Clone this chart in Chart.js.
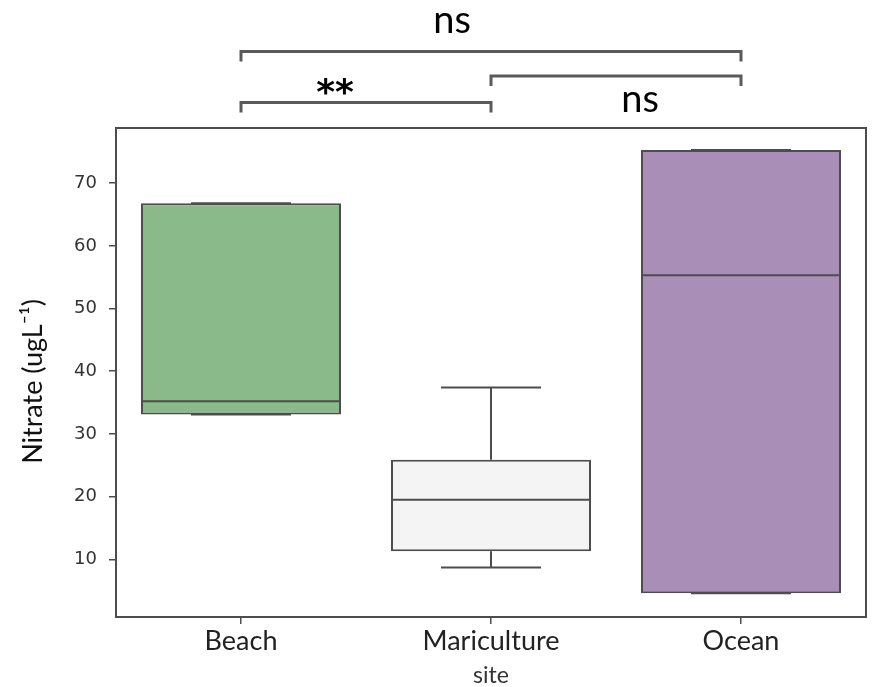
<!DOCTYPE html>
<html>
<head>
<meta charset="utf-8">
<script src="https://cdn.jsdelivr.net/npm/chart.js@4.4.1/dist/chart.umd.min.js"></script>
<style>
  html, body { margin: 0; padding: 0; background: #fff; }
  #wrap { width: 874px; height: 687px; }
</style>
</head>
<body>
<div id="wrap"><canvas id="boxChart" width="874" height="687"></canvas></div>
<script>
// --- Data ---
const sites = ['Beach', 'Mariculture', 'Ocean'];
const whiskerLow = [33.1, 8.7, 4.6];
const q1 = [33.1, 11.3, 4.6];
const medians = [35.2, 19.5, 55.3];
const q3 = [66.8, 25.9, 75.3];
const whiskerHigh = [66.8, 37.4, 75.3];
const yTicks = [10, 20, 30, 40, 50, 60, 70];
const boxColors = ['#8aba89', '#f4f4f4', '#a98eb7'];
const yTitle = 'Nitrate (ugL⁻¹)';

// significance brackets: [from site, to site, label]
const comparisons = [
  [0, 2, 'ns'],
  [1, 2, 'ns'],
  [0, 1, '**']
];

const edgeColor = '#4d4d4d';

// --- Whiskers, medians, frame and brackets ---
// bracket layout in px: line y, drop length, label x shift from bracket centre, label baseline
const bracketStyle = [
  { lineY: 51.5, drop: 10, dx: -39, baseY: 33, font: '38px Lato' },
  { lineY: 76, drop: 10, dx: 24, baseY: 111.5, font: '38px Lato' },
  { lineY: 102.5, drop: 10, dx: -31, baseY: 104, font: 'bold 36px "DejaVu Sans"' }
];

const boxExtras = {
  id: 'boxExtras',
  afterDatasetsDraw(chart) {
    const { ctx, scales: { x, y } } = chart;
    const bars = chart.getDatasetMeta(0).data;
    const seg = (x1, y1, x2, y2) => {
      ctx.beginPath();
      ctx.moveTo(x1, y1);
      ctx.lineTo(x2, y2);
      ctx.stroke();
    };
    ctx.save();
    ctx.strokeStyle = edgeColor;
    ctx.lineWidth = 2;
    sites.forEach((s, i) => {
      const cx = x.getPixelForValue(i);
      const half = bars[i].width / 2;
      const cap = half / 2;
      const yMed = y.getPixelForValue(medians[i]);
      const yHi = y.getPixelForValue(whiskerHigh[i]);
      const yLo = y.getPixelForValue(whiskerLow[i]);
      seg(cx - half, yMed, cx + half, yMed);
      seg(cx, y.getPixelForValue(q3[i]), cx, yHi);
      seg(cx, y.getPixelForValue(q1[i]), cx, yLo);
      seg(cx - cap, yHi, cx + cap, yHi);
      seg(cx - cap, yLo, cx + cap, yLo);
    });
    ctx.restore();
  },
  afterDraw(chart) {
    const { ctx, chartArea: a, scales: { x } } = chart;
    ctx.save();
    // frame round the plot
    ctx.strokeStyle = edgeColor;
    ctx.lineWidth = 2;
    ctx.strokeRect(a.left, a.top, a.right - a.left, a.bottom - a.top);

    // y axis title, a little below the plot centre as in the reference
    ctx.save();
    ctx.translate(33, (a.top + a.bottom) / 2 + 9);
    ctx.rotate(-Math.PI / 2);
    ctx.font = '27px Lato';
    ctx.fillStyle = '#111';
    ctx.textAlign = 'center';
    ctx.textBaseline = 'middle';
    ctx.fillText(yTitle, 0, 0);
    ctx.restore();

    // significance brackets
    ctx.strokeStyle = '#5a5a5a';
    ctx.lineWidth = 3;
    ctx.fillStyle = '#000';
    ctx.textAlign = 'center';
    ctx.textBaseline = 'alphabetic';
    comparisons.forEach(([from, to, label], k) => {
      const st = bracketStyle[k];
      const x1 = x.getPixelForValue(from);
      const x2 = x.getPixelForValue(to);
      ctx.beginPath();
      ctx.moveTo(x1, st.lineY + st.drop);
      ctx.lineTo(x1, st.lineY);
      ctx.lineTo(x2, st.lineY);
      ctx.lineTo(x2, st.lineY + st.drop);
      ctx.stroke();
      ctx.font = st.font;
      ctx.fillText(label, (x1 + x2) / 2 + st.dx, st.baseY);
    });
    ctx.restore();
  }
};

new Chart(document.getElementById('boxChart'), {
  type: 'bar',
  data: {
    labels: sites,
    datasets: [{
      data: sites.map((s, i) => [q1[i], q3[i]]),
      backgroundColor: boxColors,
      borderColor: edgeColor,
      borderWidth: 2,
      borderSkipped: false,
      barPercentage: 0.8,
      categoryPercentage: 1
    }]
  },
  options: {
    responsive: false,
    animation: false,
    layout: { padding: { top: 128, right: 8, left: 0, bottom: 0 } },
    plugins: { legend: { display: false }, tooltip: { enabled: false } },
    scales: {
      x: {
        offset: true,
        grid: { display: true, drawOnChartArea: false, offset: false, tickLength: 7, color: edgeColor, lineWidth: 1.5 },
        border: { display: false },
        ticks: { font: { family: 'Lato', size: 27 }, color: '#222', padding: 1 },
        title: { display: true, text: 'site', font: { family: 'Lato', size: 23, lineHeight: 1 }, color: '#333', padding: 0 },
        afterFit: s => { s.height = 70; }
      },
      y: {
        min: 0.8,
        max: 78.8,
        afterBuildTicks: s => { s.ticks = yTicks.map(v => ({ value: v })); },
        grid: { display: true, drawOnChartArea: false, tickLength: 7, color: edgeColor, lineWidth: 1.5 },
        border: { display: false },
        ticks: { font: { family: 'DejaVu Sans', size: 18 }, color: '#333', padding: 12 },
        afterFit: s => { s.width = 116; }
      }
    }
  },
  plugins: [boxExtras]
});
</script>
</body>
</html>
